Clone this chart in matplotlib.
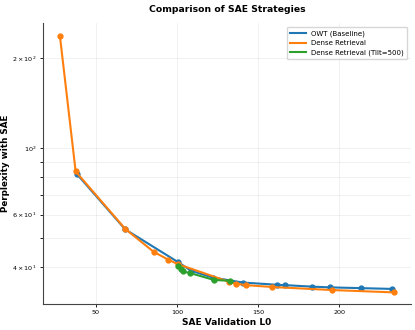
import matplotlib
matplotlib.use('Agg')
import matplotlib.pyplot as plt


# OWT baseline sweep
owt_l0 = [38.3, 68.2, 100.9, 108.7, 122.0, 140.7, 161.5, 166.6, 183.0, 194.3, 213.4, 232.3]
owt_ppl = [82.2, 53.6, 41.6, 39.0, 37.0, 35.6, 35.0, 34.9, 34.5, 34.3, 34.1, 33.9]

# dense retrieval sweep
dense_l0 = [28.0, 37.7, 68.2, 85.7, 94.5, 100.7, 132.1, 136.2, 142.4, 158.7, 195.7, 233.7]
dense_ppl = [238.0, 83.7, 53.8, 45.1, 42.5, 41.0, 35.8, 35.3, 34.9, 34.4, 33.6, 33.0]

# dense retrieval, tilt=500
tilt_l0 = [100.9, 102.5, 103.6, 108.1, 123.0, 132.7]
tilt_ppl = [40.5, 39.5, 38.8, 38.3, 36.3, 36.1]

series = [
    (owt_l0, owt_ppl, 'tab:blue', 'OWT (Baseline)'),
    (dense_l0, dense_ppl, 'tab:orange', 'Dense Retrieval'),
    (tilt_l0, tilt_ppl, 'tab:green', 'Dense Retrieval (Tilt=500)'),
]

fig = plt.figure(figsize=(4.15, 3.3), dpi=100)
ax = fig.add_axes([0.104, 0.079, 0.886, 0.851])

for xs, ys, c, name in series:
    ax.plot(xs, ys, '-', color=c, lw=1.5, label=name)
    ax.plot(xs, ys, 'o', color=c, ms=3.5)

ax.set_yscale('log')
ax.set_ylim(30.2, 262)
ax.set_xlabel('SAE Validation L0', fontsize=6.5, fontweight='bold', labelpad=2)
ax.set_ylabel('Perplexity with SAE', fontsize=6.3, fontweight='bold', labelpad=1.5)
ax.set_title('Comparison of SAE Strategies', fontsize=6.7, fontweight='bold', pad=8)
ax.tick_params(axis='both', which='both', labelsize=4.6, length=2.5, width=0.6, pad=2)
ax.grid(True, which='both', alpha=0.25, lw=0.5)
ax.spines['top'].set_visible(False)
ax.spines['right'].set_visible(False)
for s in ('left', 'bottom'):
    ax.spines[s].set_color('#444444')
ax.legend(loc='upper right', fontsize=5, handlelength=2.2, borderpad=0.5)

fig.savefig('out.png', dpi=100)
